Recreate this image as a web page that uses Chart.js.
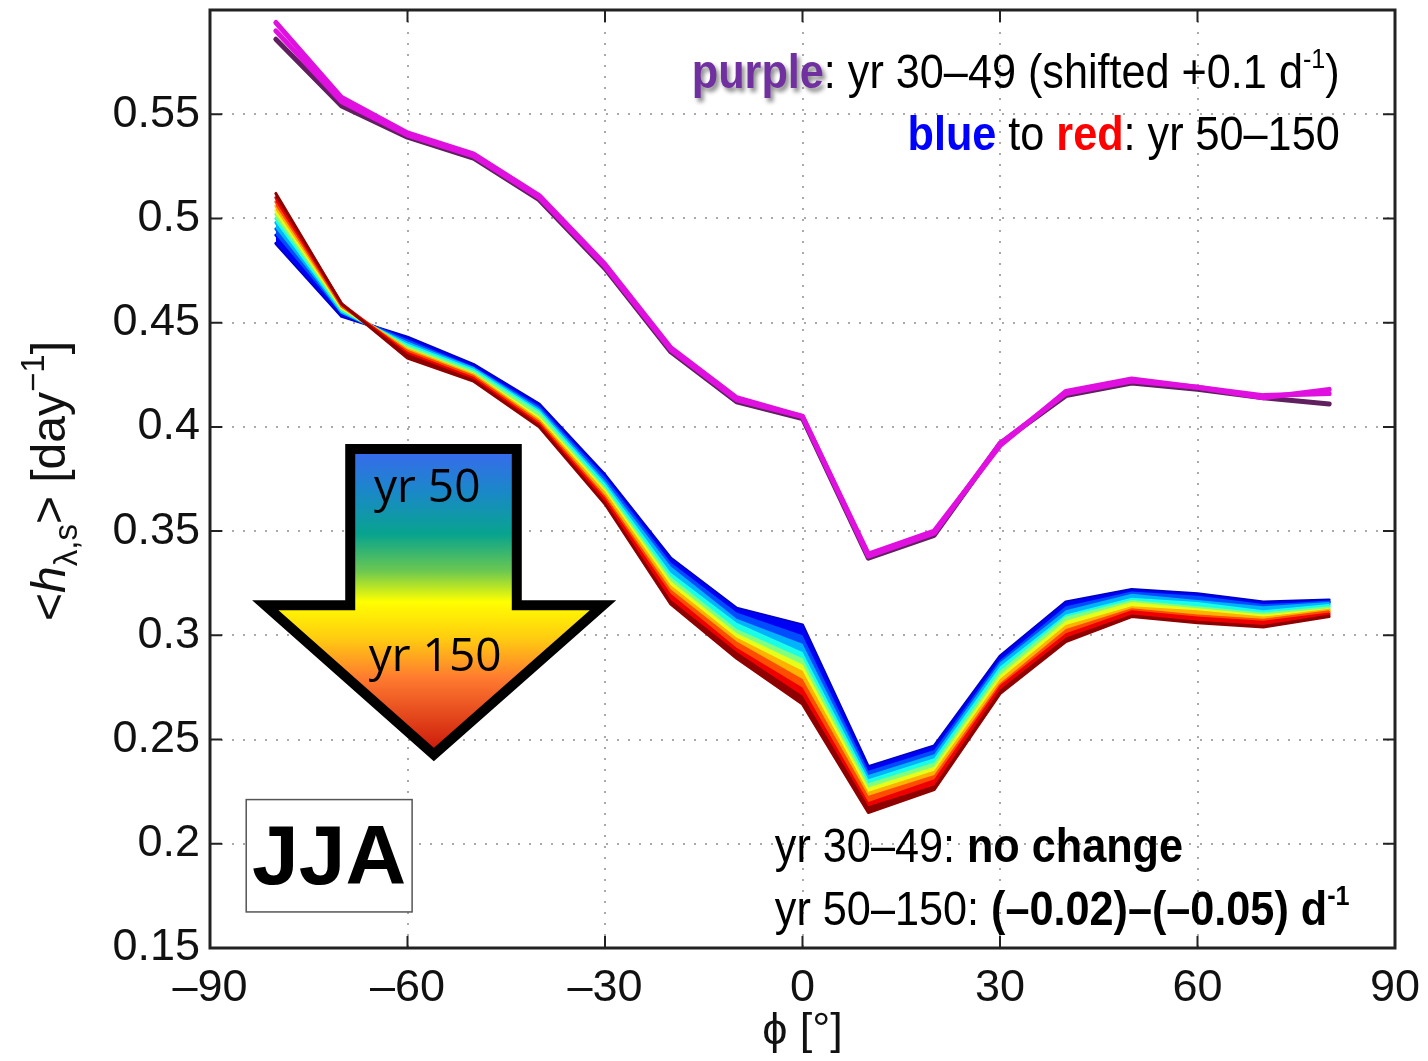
<!DOCTYPE html>
<html>
<head>
  <title>JJA</title>
  <style>
    body {
      margin: 0;
      padding: 0;
      background: #fff;
    }
    #wrap {
      width: 1428px;
      height: 1061px;
    }
  </style>
</head>
<body>
  <div id="wrap"><canvas id="grafik" width="1428" height="1061"></canvas></div>

  <script src="https://cdn.jsdelivr.net/npm/chart.js@4.4.0/dist/chart.umd.min.js"></script>
  <script>
    // latitude (deg) of each point
    const lats = [-80, -70, -60, -50, -40, -30, -20, -10, 0, 10, 20, 30, 40, 50, 60, 70, 80];

    // yr 30-49, shifted by +0.1 d-1
    const purpleA = [0.590, 0.556, 0.540, 0.530, 0.510, 0.477, 0.437, 0.413, 0.405, 0.338, 0.349, 0.392, 0.416, 0.422, 0.419, 0.415, 0.416];
    const purpleB = [0.594, 0.558, 0.541, 0.531, 0.511, 0.478, 0.438, 0.414, 0.405, 0.339, 0.350, 0.391, 0.417, 0.423, 0.419, 0.414, 0.418];
    const purpleC = [0.586, 0.554, 0.539, 0.529, 0.509, 0.476, 0.436, 0.412, 0.404, 0.337, 0.348, 0.392, 0.415, 0.421, 0.418, 0.414, 0.411];

    // yr 50-150
    const yr050 = [0.488, 0.453, 0.443, 0.430, 0.411, 0.377, 0.337, 0.313, 0.305, 0.237, 0.247, 0.290, 0.316, 0.322, 0.320, 0.316, 0.317];
    const yr060 = [0.492, 0.454, 0.442, 0.429, 0.410, 0.376, 0.335, 0.311, 0.300, 0.235, 0.245, 0.288, 0.314, 0.321, 0.319, 0.315, 0.316];
    const yr070 = [0.495, 0.455, 0.441, 0.428, 0.409, 0.374, 0.333, 0.308, 0.296, 0.233, 0.243, 0.287, 0.312, 0.320, 0.317, 0.314, 0.316];
    const yr080 = [0.498, 0.455, 0.440, 0.428, 0.408, 0.373, 0.330, 0.306, 0.292, 0.231, 0.241, 0.285, 0.310, 0.318, 0.316, 0.312, 0.315];
    const yr090 = [0.500, 0.456, 0.439, 0.427, 0.407, 0.371, 0.328, 0.303, 0.289, 0.229, 0.239, 0.283, 0.309, 0.317, 0.314, 0.311, 0.314];
    const yr100 = [0.502, 0.457, 0.438, 0.426, 0.405, 0.370, 0.326, 0.301, 0.286, 0.227, 0.237, 0.281, 0.307, 0.316, 0.313, 0.310, 0.313];
    const yr110 = [0.504, 0.457, 0.437, 0.425, 0.404, 0.369, 0.324, 0.299, 0.283, 0.225, 0.235, 0.279, 0.305, 0.314, 0.312, 0.309, 0.312];
    const yr120 = [0.506, 0.458, 0.437, 0.425, 0.403, 0.367, 0.322, 0.297, 0.279, 0.223, 0.233, 0.277, 0.303, 0.313, 0.310, 0.308, 0.312];
    const yr130 = [0.508, 0.458, 0.436, 0.424, 0.402, 0.366, 0.320, 0.294, 0.275, 0.220, 0.231, 0.276, 0.301, 0.312, 0.309, 0.307, 0.311];
    const yr140 = [0.510, 0.459, 0.435, 0.423, 0.401, 0.364, 0.317, 0.292, 0.271, 0.218, 0.228, 0.274, 0.299, 0.310, 0.307, 0.305, 0.310];
    const yr150 = [0.512, 0.459, 0.433, 0.422, 0.400, 0.363, 0.315, 0.289, 0.267, 0.215, 0.226, 0.272, 0.297, 0.309, 0.306, 0.304, 0.309];

    const yearSeries = [yr050, yr060, yr070, yr080, yr090, yr100, yr110, yr120, yr130, yr140, yr150];
    // jet colours, blue (yr 50) to dark red (yr 150)
    const jetColors = ['#0000c0', '#0000f5', '#004cff', '#00b3ff', '#1affe6', '#80ff80', '#e6ff1a', '#ffb300', '#ff4d00', '#ee0000', '#8f0000'];

    const xTicks = [-90, -60, -30, 0, 30, 60, 90];
    const xTickLabels = ['–90', '–60', '–30', '0', '30', '60', '90'];
    const yTicks = [0.15, 0.2, 0.25, 0.3, 0.35, 0.4, 0.45, 0.5, 0.55];
    const yTickLabels = ['0.15', '0.2', '0.25', '0.3', '0.35', '0.4', '0.45', '0.5', '0.55'];

    const FONT = '"Liberation Sans", Arial, Helvetica, sans-serif';

    const pts = vals => vals.map((v, i) => ({ x: lats[i], y: v }));

    const datasets = [];
    datasets.push({ data: pts(purpleC), borderColor: '#602060', borderWidth: 5, order: 3 });
    datasets.push({ data: pts(purpleB), borderColor: '#e010e0', borderWidth: 5, order: 2 });
    datasets.push({ data: pts(purpleA), borderColor: '#e010e0', borderWidth: 5, order: 1 });
    yearSeries.forEach((vals, k) => {
      datasets.push({
        data: pts(vals),
        borderColor: jetColors[k],
        backgroundColor: jetColors[k],
        borderWidth: 3,
        fill: k === 0 ? false : '-1',
        order: 30 - k
      });
    });

    // draws mixed-font text pieces one after another
    function drawRich(ctx, parts, x, y, align, sx) {
      ctx.save();
      ctx.translate(x, y);
      ctx.scale(sx, 1);
      let w = 0;
      parts.forEach(p => { ctx.font = p.font; w += ctx.measureText(p.t).width; });
      let cx = align === 'right' ? -w : (align === 'center' ? -w / 2 : 0);
      ctx.textAlign = 'left';
      ctx.textBaseline = 'alphabetic';
      parts.forEach(p => {
        ctx.font = p.font;
        ctx.fillStyle = p.color || '#000';
        if (p.shadow) {
          ctx.shadowColor = 'rgba(0,0,0,0.45)';
          ctx.shadowOffsetX = 3;
          ctx.shadowOffsetY = 4;
          ctx.shadowBlur = 4;
        } else {
          ctx.shadowColor = 'transparent';
        }
        ctx.fillText(p.t, cx, p.dy || 0);
        cx += ctx.measureText(p.t).width;
      });
      ctx.restore();
    }

    // no extra room for edge labels: the plot box is fixed
    const noPad = s => {
      s.paddingTop = 0;
      s.paddingBottom = 0;
      s.paddingLeft = 0;
      s.paddingRight = 0;
    };

    // box with inward ticks on all four sides
    const frame = {
      id: 'frame',
      afterDraw(chart) {
        const { ctx, chartArea: a, scales: { x, y } } = chart;
        ctx.save();
        ctx.strokeStyle = '#222';
        ctx.lineWidth = 3;
        ctx.strokeRect(a.left, a.top, a.right - a.left, a.bottom - a.top);
        ctx.lineWidth = 2;
        ctx.beginPath();
        xTicks.forEach(v => {
          const px = x.getPixelForValue(v);
          ctx.moveTo(px, a.bottom); ctx.lineTo(px, a.bottom - 12);
          ctx.moveTo(px, a.top); ctx.lineTo(px, a.top + 12);
        });
        yTicks.forEach(v => {
          const py = y.getPixelForValue(v);
          ctx.moveTo(a.left, py); ctx.lineTo(a.left + 12, py);
          ctx.moveTo(a.right, py); ctx.lineTo(a.right - 12, py);
        });
        ctx.stroke();
        ctx.restore();
      }
    };

    // arrow, labels, season box and y axis title
    const notes = {
      id: 'notes',
      afterDraw(chart) {
        const { ctx, scales: { x, y } } = chart;
        const P = (vx, vy) => [x.getPixelForValue(vx), y.getPixelForValue(vy)];

        // year arrow
        const sl = -68.7, sr = -43.4, wl = -81.6, wr = -30.3, tipX = -56.0;
        const top = 0.3894, shoulder = 0.3144, tipY = 0.2428;
        const shape = [P(sl, top), P(sr, top), P(sr, shoulder), P(wr, shoulder), P(tipX, tipY), P(wl, shoulder), P(sl, shoulder)];
        ctx.save();
        ctx.beginPath();
        shape.forEach((p, i) => i ? ctx.lineTo(p[0], p[1]) : ctx.moveTo(p[0], p[1]));
        ctx.closePath();
        const g = ctx.createLinearGradient(0, shape[0][1], 0, shape[4][1]);
        g.addColorStop(0, '#3a68f0');
        g.addColorStop(0.14, '#1a88c8');
        g.addColorStop(0.28, '#08a48e');
        g.addColorStop(0.40, '#6cc850');
        g.addColorStop(0.50, '#ffff00');
        g.addColorStop(0.62, '#ffcc10');
        g.addColorStop(0.75, '#ff7a30');
        g.addColorStop(1, '#c81408');
        ctx.fillStyle = g;
        ctx.fill();
        ctx.lineWidth = 10;
        ctx.lineJoin = 'miter';
        ctx.strokeStyle = '#000';
        ctx.stroke();

        ctx.fillStyle = '#000';
        ctx.textAlign = 'center';
        ctx.textBaseline = 'middle';
        ctx.font = '46px "Open Sans", sans-serif';
        let p = P(-57.0, 0.3702);
        ctx.fillText('yr 50', p[0], p[1]);
        p = P(-55.8, 0.2894);
        ctx.fillText('yr 150', p[0], p[1]);

        // season box
        const b1 = P(-84.5, 0.2212), b2 = P(-59.3, 0.1673);
        ctx.fillStyle = '#fff';
        ctx.fillRect(b1[0], b1[1], b2[0] - b1[0], b2[1] - b1[1]);
        ctx.strokeStyle = '#555';
        ctx.lineWidth = 1.5;
        ctx.strokeRect(b1[0], b1[1], b2[0] - b1[0], b2[1] - b1[1]);
        ctx.fillStyle = '#000';
        ctx.font = 'bold 84px ' + FONT;
        p = P(-71.9, 0.1933);
        ctx.fillText('JJA', p[0], p[1] + 3);
        ctx.restore();

        const R = '48px ' + FONT, B = 'bold 48px ' + FONT;
        const r = '28px ' + FONT, bs = 'bold 28px ' + FONT;

        p = P(81.6, 0.5625);
        drawRich(ctx, [
          { t: 'purple', font: B, color: '#7030a0', shadow: true },
          { t: ': yr 30–49 (shifted +0.1 d', font: R },
          { t: '-1', font: r, dy: -20 },
          { t: ')', font: R }
        ], p[0], p[1], 'right', 0.9);
        p = P(81.6, 0.5327);
        drawRich(ctx, [
          { t: 'blue', font: B, color: '#0000ff' },
          { t: ' to ', font: R },
          { t: 'red', font: B, color: '#ff0000' },
          { t: ': yr 50–150', font: R }
        ], p[0], p[1], 'right', 0.9);

        p = P(-4.2, 0.1913);
        drawRich(ctx, [
          { t: 'yr 30–49: ', font: R },
          { t: 'no change', font: B }
        ], p[0], p[1], 'left', 0.9);
        p = P(-4.2, 0.1611);
        drawRich(ctx, [
          { t: 'yr 50–150: ', font: R },
          { t: '(–0.02)–(–0.05) d', font: B },
          { t: '-1', font: bs, dy: -20 }
        ], p[0], p[1], 'left', 0.9);

        // y axis title, rotated
        ctx.save();
        ctx.translate(65, 481);
        ctx.rotate(-Math.PI / 2);
        const T = '48px ' + FONT, t = '33px ' + FONT;
        drawRich(ctx, [
          { t: '<', font: T, color: '#111' },
          { t: 'h', font: 'italic 48px ' + FONT, color: '#111' },
          { t: 'λ,s', font: t, dy: 12, color: '#111' },
          { t: '> [day', font: T, color: '#111' },
          { t: '−1', font: t, dy: -21, color: '#111' },
          { t: ']', font: T, color: '#111' }
        ], 0, 0, 'center', 1);
        ctx.restore();
      }
    };

    const ctx = document.getElementById('grafik').getContext('2d');
    const chart = new Chart(ctx, {
      type: 'line',
      data: { datasets: datasets },
      options: {
        responsive: false,
        animation: false,
        devicePixelRatio: 1,
        layout: { padding: { top: 10, right: 33, left: 0, bottom: 0 } },
        elements: {
          point: { radius: 0, hoverRadius: 0 },
          line: { tension: 0, borderJoinStyle: 'round', borderCapStyle: 'round' }
        },
        plugins: {
          legend: { display: false },
          tooltip: { enabled: false },
          filler: { propagate: false }
        },
        scales: {
          x: {
            type: 'linear',
            min: -90,
            max: 90,
            afterBuildTicks: s => { s.ticks = xTicks.map(v => ({ value: v })); },
            afterFit: s => { s.height = 113; noPad(s); },
            ticks: {
              autoSkip: false,
              maxRotation: 0,
              padding: 14,
              color: '#111',
              font: { family: FONT, size: 45 },
              callback: (v, i) => xTickLabels[i]
            },
            grid: { color: '#aaa', lineWidth: 2, drawTicks: false },
            border: { display: false, dash: [2, 9] },
            title: {
              display: true,
              text: 'ϕ [°]',
              color: '#111',
              font: { family: FONT, size: 45 },
              padding: { top: 0, bottom: 2 }
            }
          },
          y: {
            min: 0.15,
            max: 0.6,
            afterBuildTicks: s => { s.ticks = yTicks.map(v => ({ value: v })); },
            afterFit: s => { s.width = 210; noPad(s); },
            ticks: {
              autoSkip: false,
              padding: 10,
              color: '#111',
              font: { family: FONT, size: 45 },
              callback: (v, i) => yTickLabels[i]
            },
            grid: { color: '#aaa', lineWidth: 2, drawTicks: false },
            border: { display: false, dash: [2, 9] }
          }
        }
      },
      plugins: [frame, notes]
    });
  </script>
</body>
</html>
